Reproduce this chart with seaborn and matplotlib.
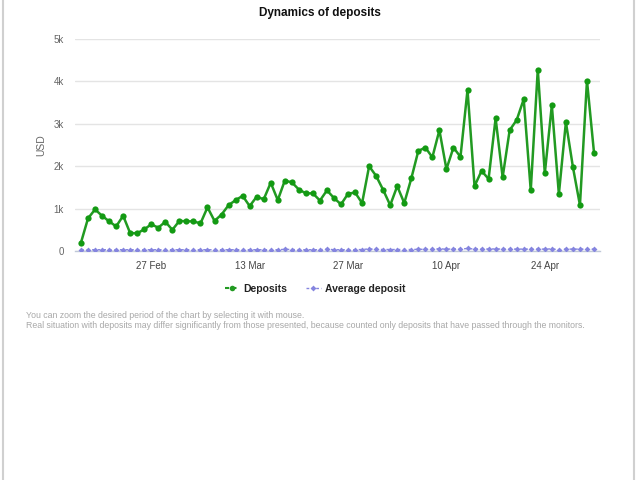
import matplotlib
matplotlib.use("Agg")
import matplotlib.pyplot as plt
from matplotlib.lines import Line2D
import numpy as np
import pandas as pd
import seaborn as sns

# ---- data ----
start_date = "2015-02-17"
deposits_k = [0.20, 0.77, 0.98, 0.83, 0.70, 0.58, 0.83, 0.42, 0.42, 0.51,
              0.63, 0.55, 0.69, 0.50, 0.71, 0.70, 0.70, 0.65, 1.03, 0.71,
              0.86, 1.08, 1.20, 1.30, 1.06, 1.28, 1.22, 1.61, 1.20, 1.66,
              1.62, 1.45, 1.36, 1.36, 1.19, 1.43, 1.25, 1.10, 1.35, 1.38,
              1.13, 2.00, 1.77, 1.44, 1.08, 1.53, 1.13, 1.71, 2.36, 2.44,
              2.21, 2.85, 1.93, 2.44, 2.22, 3.80, 1.53, 1.89, 1.70, 3.13,
              1.74, 2.85, 3.09, 3.58, 1.43, 4.28, 1.83, 3.44, 1.34, 3.04,
              1.98, 1.08, 4.02, 2.32]
average_deposit = [25, 30, 30, 30, 30, 30, 30, 30, 30, 30,
                   30, 30, 30, 30, 30, 30, 30, 30, 30, 30,
                   30, 30, 30, 30, 30, 30, 30, 30, 30, 40,
                   35, 30, 30, 30, 30, 45, 30, 30, 30, 30,
                   35, 50, 40, 35, 35, 35, 35, 35, 40, 40,
                   40, 55, 40, 55, 45, 60, 45, 55, 45, 50,
                   45, 45, 45, 45, 45, 45, 45, 50, 30, 45,
                   45, 45, 45, 45]
tick_dates = ["2015-02-27", "2015-03-13", "2015-03-27", "2015-04-10", "2015-04-24"]
tick_labels = ["27 Feb", "13 Mar", "27 Mar", "10 Apr", "24 Apr"]
y_ticks = [0, 1000, 2000, 3000, 4000, 5000]
y_tick_labels = ["0", "1k", "2k", "3k", "4k", "5k"]
series_names = ["Deposits", "Average deposit"]
title = "Dynamics of deposits"
y_label = "USD"
note_lines = ["You can zoom the desired period of the chart by selecting it with mouse.",
              "Real situation with deposits may differ significantly from those presented, because counted only deposits that have passed through the monitors."]

dates = pd.date_range(start_date, periods=len(deposits_k), freq="D")
df = pd.DataFrame({"date": dates,
                   "Deposits": np.array(deposits_k) * 1000,
                   "Average deposit": average_deposit})

# ---- style ----
sns.set_style("white")
plt.rcParams["font.family"] = ["Liberation Sans", "DejaVu Sans"]

green = "#229a22"
purple = "#8585df"
gray_txt = "#666666"

fig = plt.figure(figsize=(6.4, 4.8), dpi=100)
W, H = 640, 480
ax = fig.add_axes([75 / W, 1 - 251 / H, (600 - 75) / W, (251 - 39) / H])

sns.lineplot(data=df, x="date", y="Average deposit", ax=ax, color=purple,
             linewidth=1.0, linestyle=(0, (2, 2)), marker="D", markersize=3,
             markeredgewidth=0, markerfacecolor=purple, zorder=3)
sns.lineplot(data=df, x="date", y="Deposits", ax=ax, color=green,
             linewidth=1.8, marker="o", markersize=4.5, markeredgewidth=0,
             markerfacecolor="#139a13", zorder=4)

x0 = dates[0] - pd.Timedelta(hours=20.5)
x1 = dates[-1] + pd.Timedelta(hours=20.5)
ax.set_xlim(x0, x1)
ax.set_ylim(0, 5000)

ax.set_yticks(y_ticks)
ax.set_yticklabels(y_tick_labels)
ax.set_xticks(pd.to_datetime(tick_dates))
ax.set_xticklabels(tick_labels)
ax.tick_params(axis="y", length=0, pad=8, labelsize=7, labelcolor=gray_txt)
ax.tick_params(axis="x", length=5, width=1, color="#c0c8d8", direction="out",
               pad=2, labelsize=7, labelcolor="#444444")
ax.grid(axis="y", color="#e4e4e4", linewidth=1)
ax.grid(axis="x", visible=False)
for s in ["top", "right", "left"]:
    ax.spines[s].set_visible(False)
ax.spines["bottom"].set_color("#c0c8d8")
ax.spines["bottom"].set_linewidth(1)
ax.set_xlabel("")
ax.set_ylabel(y_label, fontsize=7.5, color=gray_txt)
ax.yaxis.set_label_coords((46 - 75) / 525, 0.5)

fig.text(320 / W, 1 - 13 / H, title, ha="center", va="center",
         fontsize=8.5, fontweight="bold", color="#111111")

handles = [Line2D([], [], color=green, lw=1.5, linestyle=(0, (2, 1.5)), marker="o",
                  markersize=4, markeredgewidth=0),
           Line2D([], [], color=purple, lw=1, linestyle=(0, (2, 1.5)), marker="D",
                  markersize=3, markeredgewidth=0)]
leg = fig.legend(handles, series_names, loc="center", ncol=2,
                 bbox_to_anchor=(315 / W, 1 - 289 / H), frameon=False,
                 handlelength=1.4, handletextpad=0.4, columnspacing=1.8,
                 prop={"size": 7.5, "weight": "bold"})
for t in leg.get_texts():
    t.set_color("#222222")

fig.text(26 / W, 1 - 316 / H, note_lines[0], ha="left", va="center",
         fontsize=6.3, color="#a8a8a8")
fig.text(26 / W, 1 - 326 / H, note_lines[1], ha="left", va="center",
         fontsize=6.3, color="#a8a8a8")

# screenshot frame lines
fig.add_artist(Line2D([3 / W, 3 / W], [0, 1], transform=fig.transFigure,
                      color="#d0d0d0", lw=1.5))
fig.add_artist(Line2D([634 / W, 634 / W], [0, 1], transform=fig.transFigure,
                      color="#d0d0d0", lw=1.5))

fig.savefig("out.png", dpi=100)
